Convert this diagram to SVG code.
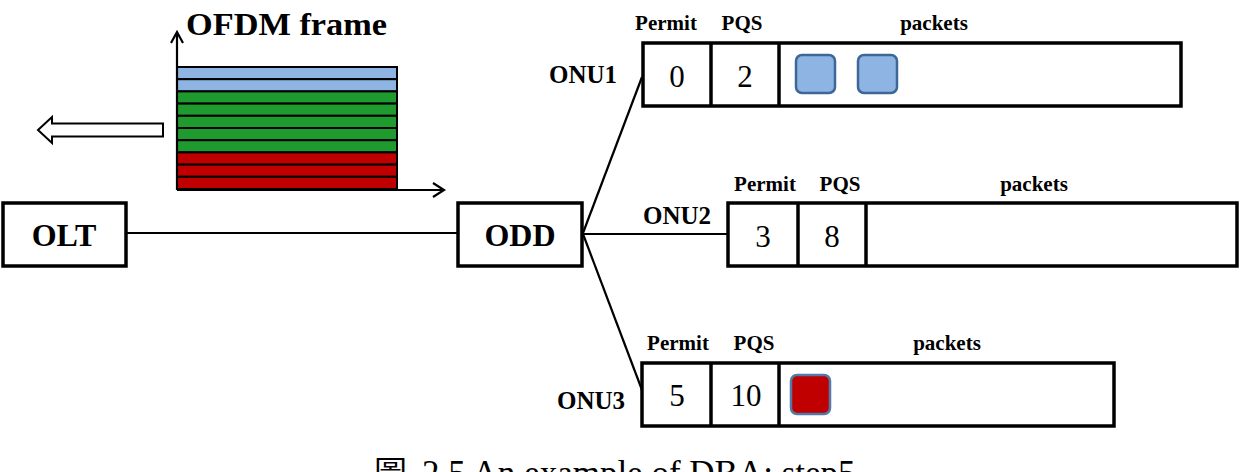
<svg xmlns="http://www.w3.org/2000/svg" width="1245" height="472" viewBox="0 0 1245 472">
  <style>
    .b { font-family: "Liberation Serif", "Times New Roman", serif; font-weight: bold; fill: #000; }
    .r { font-family: "Liberation Serif", "Times New Roman", serif; fill: #000; }
    .box { fill: #fff; stroke: #000; stroke-width: 3.5; }
    .div { stroke: #000; stroke-width: 3.5; }
    .wire { stroke: #000; stroke-width: 2.2; fill: none; }
    .stripe { stroke: #000; stroke-width: 2; }
    .pktB { fill: #8EB4E3; stroke: #3C6797; stroke-width: 2.5; }
    .pktR { fill: #C00000; stroke: #5279A8; stroke-width: 2.5; }
    .lbl { font-size: 21px; text-anchor: middle; }
    .num { font-size: 31px; text-anchor: middle; }
    .onu { font-size: 25px; text-anchor: end; }
  </style>

  <!-- OFDM frame: stacked subcarrier stripes with axes -->
  <g id="ofdm-frame">
    <text class="b" x="186" y="35" font-size="32" textLength="201" lengthAdjust="spacingAndGlyphs">OFDM frame</text>
    <rect class="stripe" x="177" y="67" width="220" height="12.2" fill="#8EB4E3"/>
    <rect class="stripe" x="177" y="79.2" width="220" height="12.2" fill="#8EB4E3"/>
    <rect class="stripe" x="177" y="91.4" width="220" height="12.2" fill="#1F9A2F"/>
    <rect class="stripe" x="177" y="103.6" width="220" height="12.2" fill="#1F9A2F"/>
    <rect class="stripe" x="177" y="115.8" width="220" height="12.2" fill="#1F9A2F"/>
    <rect class="stripe" x="177" y="128" width="220" height="12.2" fill="#1F9A2F"/>
    <rect class="stripe" x="177" y="140.2" width="220" height="12.2" fill="#1F9A2F"/>
    <rect class="stripe" x="177" y="152.4" width="220" height="12.2" fill="#C00000"/>
    <rect class="stripe" x="177" y="164.6" width="220" height="12.2" fill="#C00000"/>
    <rect class="stripe" x="177" y="176.8" width="220" height="12.2" fill="#C00000"/>
    <path class="wire" d="M177 190 V32 M171 43 L177 32 L183 43"/>
    <path class="wire" d="M177 190 H444 M433 183 L444 190 L433 197"/>
    <polygon points="38,130 52,117 52,123.5 163,123.5 163,136.5 52,136.5 52,143" fill="#fff" stroke="#000" stroke-width="2"/>
  </g>

  <!-- Links between OLT, ODD and the ONUs -->
  <g id="connectors">
    <line class="wire" x1="126" y1="233" x2="458" y2="233"/>
    <line class="wire" x1="583" y1="233" x2="642" y2="77"/>
    <line class="wire" x1="583" y1="234" x2="728" y2="234"/>
    <line class="wire" x1="583" y1="234" x2="642" y2="390"/>
  </g>

  <g id="olt">
    <rect class="box" x="3" y="203" width="123" height="63"/>
    <text class="b" x="64" y="246" font-size="32" text-anchor="middle">OLT</text>
  </g>

  <g id="odd">
    <rect class="box" x="458" y="203" width="124" height="63"/>
    <text class="b" x="520" y="246" font-size="32" text-anchor="middle">ODD</text>
  </g>

  <g id="onu1">
    <text class="b onu" x="617" y="83">ONU1</text>
    <text class="b lbl" x="666" y="30">Permit</text>
    <text class="b lbl" x="742" y="30">PQS</text>
    <text class="b lbl" x="934" y="30">packets</text>
    <rect class="box" x="643" y="43" width="538" height="63"/>
    <line class="div" x1="711" y1="43" x2="711" y2="106"/>
    <line class="div" x1="779" y1="43" x2="779" y2="106"/>
    <text class="r num" x="677" y="87">0</text>
    <text class="r num" x="745" y="87">2</text>
    <rect class="pktB" x="796" y="55" width="39" height="38" rx="6"/>
    <rect class="pktB" x="858" y="55" width="39" height="38" rx="6"/>
  </g>

  <g id="onu2">
    <text class="b onu" x="711" y="224">ONU2</text>
    <text class="b lbl" x="765" y="191">Permit</text>
    <text class="b lbl" x="840" y="191">PQS</text>
    <text class="b lbl" x="1034" y="191">packets</text>
    <rect class="box" x="728" y="203" width="509" height="63"/>
    <line class="div" x1="798" y1="203" x2="798" y2="266"/>
    <line class="div" x1="866" y1="203" x2="866" y2="266"/>
    <text class="r num" x="763" y="247">3</text>
    <text class="r num" x="832" y="247">8</text>
  </g>

  <g id="onu3">
    <text class="b onu" x="625" y="409">ONU3</text>
    <text class="b lbl" x="678" y="350">Permit</text>
    <text class="b lbl" x="754" y="350">PQS</text>
    <text class="b lbl" x="947" y="350">packets</text>
    <rect class="box" x="642" y="363" width="472" height="63"/>
    <line class="div" x1="711" y1="363" x2="711" y2="426"/>
    <line class="div" x1="779" y1="363" x2="779" y2="426"/>
    <text class="r num" x="677" y="406">5</text>
    <text class="r num" x="746" y="406">10</text>
    <rect class="pktR" x="791" y="375" width="39" height="39" rx="6"/>
  </g>

  <!-- Figure caption, running off the bottom edge -->
  <g id="caption">
    <text x="374" y="485" font-size="33" font-family="'Noto Sans CJK TC', 'Noto Sans CJK SC', sans-serif">圖</text>
    <text class="r" x="422" y="485" font-size="35">2.5 An example of DBA: step5</text>
  </g>
</svg>
